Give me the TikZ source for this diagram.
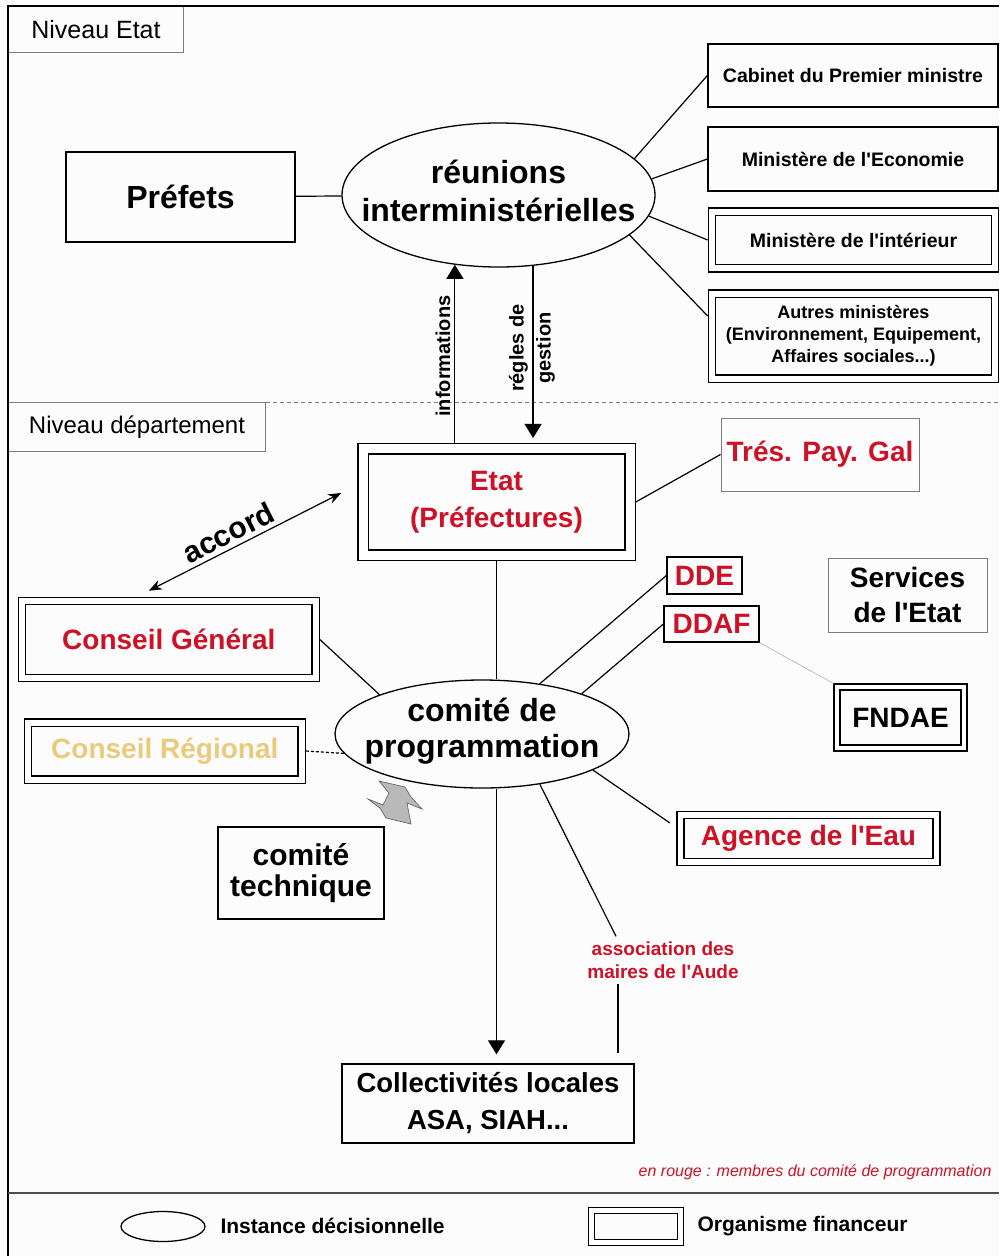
\documentclass[tikz,border=0pt]{standalone}
\usepackage{fontspec}
\setmainfont{Liberation Sans}
\usetikzlibrary{shapes.geometric,arrows.meta}

\definecolor{rouge}{RGB}{205,17,39}
\definecolor{sable}{RGB}{234,203,125}
\definecolor{gristrait}{RGB}{125,125,125}
\newcommand\q{\textquotesingle}

\tikzset{
  txt/.style 2 args={font=\fontsize{#1}{#2}\selectfont\bfseries},
  boite/.style={draw, line width=1.3pt, inner sep=0pt, align=center},
  financeur/.style={boite, double, double distance=6pt, outer sep=4.3pt},
  pale/.style={draw=gristrait, line width=1pt, inner sep=0pt, align=center},
  instance/.style={ellipse, draw, line width=1.3pt, inner sep=0pt},
  lien/.style={line width=1.2pt},
  fleche/.style={lien, -{Triangle[length=14pt,width=17pt]}},
  accfl/.style={lien, {Stealth[length=13pt,width=10pt]}-{Stealth[length=13pt,width=10pt]}},
}

\begin{document}
\begin{tikzpicture}[x=1pt,y=-1pt]
\useasboundingbox (0,0) rectangle (999,1256);
\fill[black!1] (0,0) rectangle (999,1256);

% niveau Etat
\node[pale, minimum width=175pt, minimum height=46pt, anchor=north west, font=\fontsize{25}{30}\selectfont] (ne) at (8,6) {Niveau Etat};
\node[boite, minimum width=229pt, minimum height=90pt, txt={32}{38}] (pre) at (180.5,197) {Préfets};
\node[instance, minimum width=313pt, minimum height=144pt] (reu) at (498.5,195) {};
\node[txt={32}{38}, align=center] (reut) at (498.5,191) {réunions\\interministérielles};
\node[boite, minimum width=290pt, minimum height=63pt, txt={19.5}{23}] (cab) at (853,75.5) {Cabinet du Premier ministre};
\node[boite, minimum width=290pt, minimum height=64pt, txt={19.5}{23}] (eco) at (853,159) {Ministère de l\q Economie};
\node[financeur, minimum width=283pt, minimum height=56.5pt, txt={19.5}{23}] (int) at (853.5,240) {Ministère de l\q intérieur};
\node[financeur, minimum width=283pt, minimum height=85pt, txt={18}{22}] (aut) at (853.5,336) {Autres ministères\\(Environnement, Equipement,\\Affaires sociales...)};

\draw[lien] (pre) -- (reu);
\draw[lien] (reu.15) -- (cab.west);
\draw[lien] (reu.6) -- (eco.west);
\draw[lien] (reu.-8) -- (int.west);
\draw[lien] (reu.-17) -- ([yshift=20pt]aut.west);

% niveau departement
\node[pale, minimum width=257pt, minimum height=49pt, anchor=north west, font=\fontsize{24}{30}\selectfont] (nd) at (8,402) {Niveau département};
\coordinate (bordd) at (999,402);
\draw[gristrait, line width=1pt, dash pattern=on 4pt off 3pt] (nd.north east) -- (bordd);

\node[financeur, double distance=9pt, outer sep=5.8pt, minimum width=267pt, minimum height=106.5pt, txt={28}{37}, text=rouge] (eta) at (496.5,502) {Etat\\(Préfectures)};
\node[pale, minimum width=198pt, minimum height=73pt, txt={28}{34}, text=rouge] (tres) at (820,454.5) {Trés. Pay. Gal};
\node[financeur, minimum width=293.5pt, minimum height=77pt, txt={28}{34}, text=rouge] (cg) at (168.8,639.5) {Conseil Général};
\node[financeur, minimum width=273.5pt, minimum height=57pt, txt={28}{34}, text=sable] (cr) at (164.8,751) {Conseil Régional};
\node[instance, minimum width=294pt, minimum height=108pt] (cp) at (482,734) {};
\node[txt={32}{36}, align=center] (cpt) at (482,731) {comité de\\programmation};
\node[boite, minimum width=75pt, minimum height=37pt, txt={28}{34}, text=rouge] (dde) at (704.5,575.5) {DDE};
\node[boite, minimum width=95pt, minimum height=36pt, txt={28}{34}, text=rouge] (dda) at (711.5,624) {DDAF};
\node[pale, minimum width=159pt, minimum height=74pt, txt={28}{35}] (serv) at (907.5,595) {Services\\de l\q Etat};
\node[financeur, double distance=4.5pt, outer sep=3.55pt, minimum width=127pt, minimum height=61pt, txt={28}{34}] (fnd) at (900.5,717.5) {FNDAE};
\node[financeur, double distance=5.5pt, outer sep=4.05pt, minimum width=256pt, minimum height=47pt, txt={28}{34}, text=rouge] (age) at (808.5,838.5) {Agence de l\q Eau};
\node[boite, minimum width=166pt, minimum height=92pt, txt={30}{31}] (tech) at (301,873) {comité\\technique};
\node[boite, minimum width=292pt, minimum height=79pt, txt={27.5}{37}] (col) at (488,1103.5) {Collectivités locales\\ASA, SIAH...};
\node[txt={19}{23}, text=rouge, align=center, inner sep=5pt] (asso) at (663,960) {association des\\maires de l\q Aude};

\draw[fleche] (eta.north -| reu.238) -- (reu.238);
\node[txt={20}{27}, rotate=90] (inf) at (443,356) {informations};
\draw[fleche, shorten >=5pt] (reu.296) -- (reu.296 |- eta.north);
\node[txt={20}{27}, rotate=90, align=center] (reg) at (532,348) {régles de\\gestion};

\draw[lien] (eta.east) -- (tres.west);
\draw[accfl] ([xshift=-20pt,yshift=6pt]cg.north) -- ([xshift=-16pt,yshift=9pt]eta.west)
  node[pos=0.45, above=1pt, sloped, txt={30}{36}] (acc) {accord};
\draw[lien] (eta.south) -- (eta.south |- cp.north);
\draw[lien] (cg.east) -- (cp.159);
\draw[lien, dash pattern=on 3pt off 2pt] (cr.east) -- (cp.188);
\draw[lien] (cp.41) -- (dde.west);
\draw[lien] (cp.22) -- (dda.west);
\draw[gristrait!50, line width=0.8pt] (dda.south east) -- (fnd.north west);
\draw[lien, shorten >=8pt] (cp.-18) -- ([yshift=11pt]age.west);
\draw[lien] (cp.-41) -- ([xshift=-47pt]asso.north);
\draw[lien, shorten >=10pt] ([xshift=-45pt]asso.south) -- ([xshift=-45pt]asso.south |- col.north);
\draw[fleche, shorten >=9pt] (eta.south |- cp.south) -- (eta.south |- col.north);

% liaison comite technique
\draw[fill=gray!55, draw=gray!70!black, line width=0.6pt] (379,781) -- (405,787) -- (411,797) -- (422,809) -- (407,803) -- (411,824) -- (386,818) -- (380,808) -- (368,799) -- (383,805) -- (389,793) -- cycle;

\node[anchor=east, font=\fontsize{16}{19}\selectfont\itshape, text=rouge] (note) at (995,1172) {en rouge : membres du comité de programmation};

% cadre et legende
\draw[line width=1.6pt] (8,1256) -- (8,6) -- (999,6);
\draw[line width=2pt, gray!60!black] (8,1193) -- (999,1193);
\node[instance, minimum width=84pt, minimum height=30pt] (legell) at (163,1226.5) {};
\node[anchor=west, txt={21}{25}] (legi) at (217,1226) {Instance décisionnelle};
\node[financeur, double distance=5pt, outer sep=3.8pt, minimum width=89pt, minimum height=32pt] (legrect) at (636,1226.5) {};
\node[anchor=west, txt={21}{25}] (lego) at (694,1226) {Organisme financeur};
\end{tikzpicture}
\end{document}
